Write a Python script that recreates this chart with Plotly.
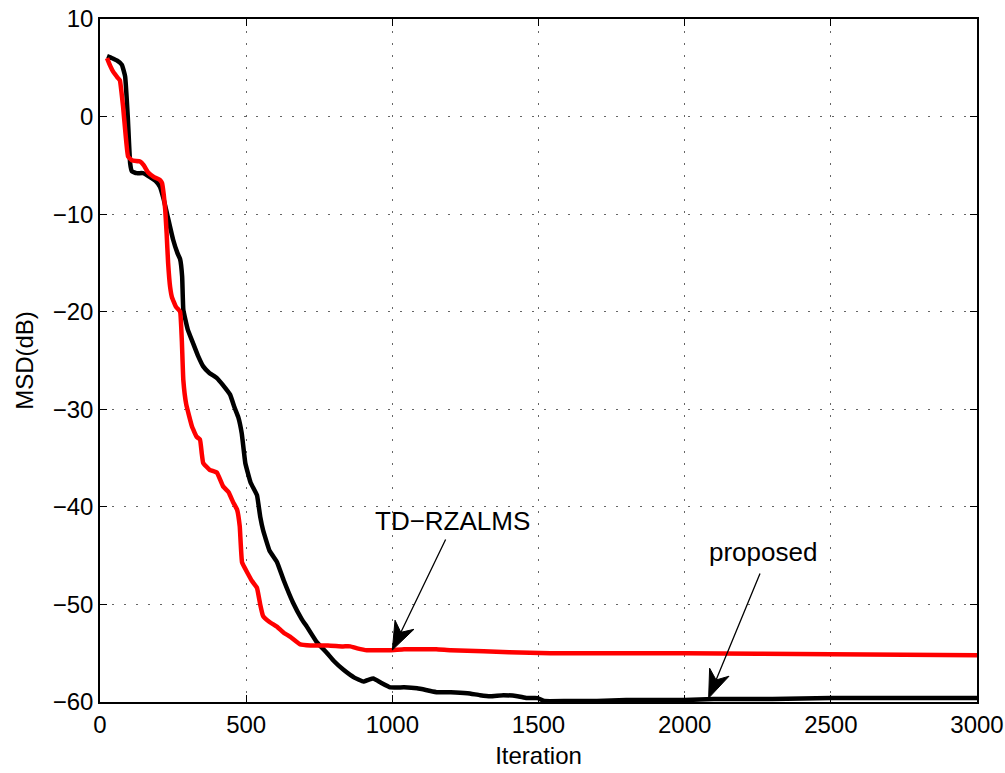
import math
import plotly.graph_objects as go

# proposed (black)
prop_x = [24, 40, 60, 75, 86, 95, 103, 109, 125, 147, 171, 190, 205, 218, 229, 250, 265, 274, 281, 285,
          300, 318, 335, 353, 375, 400, 420, 445, 460, 473, 485, 497, 515, 537, 548, 558, 580, 606, 628,
          660, 690, 708, 740, 777, 800, 833, 870, 901, 920, 935, 960, 993, 1040, 1085, 1120, 1154, 1200,
          1257, 1300, 1336, 1380, 1428, 1460, 1497, 1520, 1600, 1700, 1800, 1900, 2000, 2100, 2300, 2500,
          2700, 3000]
prop_y = [6.2, 6.0, 5.7, 5.3, 4.1, 0.0, -4.75, -5.6, -5.8, -5.8, -6.2, -6.6, -7.2, -8.5, -9.9, -12.6, -14.0,
          -14.6, -16.4, -19.8, -21.8, -23.2, -24.5, -25.6, -26.3, -26.8, -27.5, -28.5, -29.8, -30.8, -32.5,
          -35.5, -37.5, -38.8, -41.0, -42.4, -44.5, -45.7, -47.5, -49.8, -51.5, -52.3, -53.8, -55.0, -55.8,
          -56.7, -57.5, -57.9, -57.7, -57.6, -58.0, -58.5, -58.5, -58.6, -58.8, -59.0, -59.0, -59.1, -59.3,
          -59.4, -59.3, -59.4, -59.6, -59.6, -59.9, -59.9, -59.9, -59.8, -59.8, -59.8, -59.7, -59.7, -59.6,
          -59.6, -59.6]

# TD-RZALMS (red)
td_x = [24, 35, 45, 60, 68, 79, 88, 96, 110, 137, 150, 164, 185, 205, 212, 218, 223, 228, 233, 240, 246,
        260, 274, 280, 285, 295, 315, 330, 342, 348, 353, 375, 400, 421, 440, 455, 469, 478, 486, 505, 520,
        537, 548, 558, 580, 606, 628, 650, 685, 720, 780, 830, 856, 880, 913, 950, 993, 1040, 1085, 1150,
        1200, 1312, 1400, 1541, 1700, 2000, 2500, 3000]
td_y = [6.0, 5.2, 4.6, 4.0, 3.7, 1.0, -2.0, -4.1, -4.5, -4.6, -5.0, -5.7, -6.2, -6.5, -6.8, -8.0, -9.5, -12.0,
        -15.0, -17.5, -18.5, -19.5, -20.0, -23.0, -27.0, -29.5, -31.8, -32.8, -33.1, -34.5, -35.5, -36.2,
        -36.5, -37.9, -38.5, -39.5, -40.3, -42.0, -45.7, -46.8, -47.6, -48.3, -50.0, -51.2, -51.8, -52.3,
        -52.9, -53.3, -54.1, -54.2, -54.2, -54.3, -54.3, -54.5, -54.7, -54.7, -54.7, -54.6, -54.6, -54.6,
        -54.7, -54.8, -54.9, -55.0, -55.0, -55.0, -55.1, -55.2]

x_ticks = [0, 500, 1000, 1500, 2000, 2500, 3000]
y_ticks = [-60, -50, -40, -30, -20, -10, 0, 10]

# annotations: label, text position, arrow tip, tail offset (px)
ann_labels = ["TD\u2212RZALMS", "proposed"]
ann_text_xy = [(1205, -41.4), (2267, -44.6)]
ann_tip_xy = [(1000, -54.67), (2082, -59.6)]
ann_tail_px = [(54, -112), (52, -126)]

FONT = "Liberation Sans, Arial, sans-serif"

fig = go.Figure()
fig.add_trace(go.Scatter(x=prop_x, y=prop_y, mode="lines", name="proposed",
                         line=dict(color="black", width=4.5, shape="spline", smoothing=0.3)))
fig.add_trace(go.Scatter(x=td_x, y=td_y, mode="lines", name="TD-RZALMS",
                         line=dict(color="#ff0000", width=4.5, shape="spline", smoothing=0.3)))

axis_common = dict(showline=True, linecolor="black", linewidth=1.5, mirror="ticks",
                   ticks="inside", ticklen=7, tickcolor="black", tickwidth=1,
                   showgrid=True, gridcolor="#666666", gridwidth=1, griddash="2px,10px",
                   zeroline=False, automargin=False,
                   tickfont=dict(family=FONT, size=24, color="black"))

fig.update_xaxes(range=[0, 3000], tickvals=x_ticks, ticktext=[str(v) for v in x_ticks],
                 title=dict(text="Iteration", font=dict(family=FONT, size=24, color="black"), standoff=11),
                 **axis_common)
fig.update_yaxes(range=[-60, 10], tickvals=y_ticks,
                 ticktext=[str(v).replace("-", "\u2212") for v in y_ticks],
                 title=dict(text="MSD(dB)", font=dict(family=FONT, size=24, color="black"), standoff=12),
                 **axis_common)

HEAD_L, HEAD_W, NOTCH = 28, 10.5, 0.7
for label, (tx, ty), (px, py), (ax, ay) in zip(ann_labels, ann_text_xy, ann_tip_xy, ann_tail_px):
    fig.add_annotation(x=tx, y=ty, text=label, showarrow=False,
                       font=dict(family=FONT, size=26, color="black"))
    fig.add_annotation(x=px, y=py, text="", showarrow=True, ax=ax, ay=ay,
                       arrowhead=0, arrowwidth=1.3, arrowcolor="black", standoff=10)
    # filled arrowhead built in pixel units around the tip
    n = math.hypot(ax, ay)
    ux, uy = ax / n, -ay / n          # direction toward tail (y up)
    vx, vy = -uy, ux                  # perpendicular
    c1 = (HEAD_L * ux + HEAD_W * vx, HEAD_L * uy + HEAD_W * vy)
    c2 = (HEAD_L * ux - HEAD_W * vx, HEAD_L * uy - HEAD_W * vy)
    nt = (NOTCH * HEAD_L * ux, NOTCH * HEAD_L * uy)
    path = "M0,0 L{:.2f},{:.2f} L{:.2f},{:.2f} L{:.2f},{:.2f} Z".format(c1[0], c1[1], nt[0], nt[1], c2[0], c2[1])
    fig.add_shape(type="path", path=path, xref="x", yref="y", xsizemode="pixel", ysizemode="pixel",
                  xanchor=px, yanchor=py, fillcolor="black", line=dict(color="black", width=1))

fig.update_layout(width=1005, height=773, plot_bgcolor="white", paper_bgcolor="white",
                  margin=dict(l=100, r=28, t=19, b=71), showlegend=False,
                  font=dict(family=FONT, color="black"))

fig.write_html("out.html")
